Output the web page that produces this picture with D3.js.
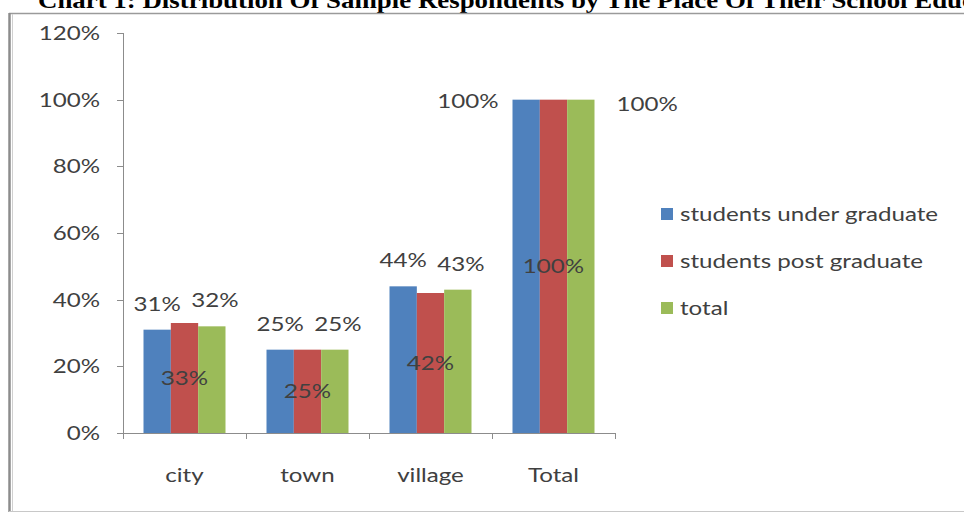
<!DOCTYPE html>
<html><head><meta charset="utf-8">
<script src="https://cdn.jsdelivr.net/npm/d3@7"></script>
<style>body{margin:0;background:#fff;overflow:hidden}svg{display:block}</style>
</head><body>
<svg id="c" width="964" height="516"></svg>
<script>
const title = "Chart 1: Distribution Of Sample Respondents by The Place Of Their School Education";
const categories = ["city", "town", "village", "Total"];
const seriesNames = ["students under graduate", "students post graduate", "total"];
const underGraduate = [0.31, 0.25, 0.44, 1.00];
const postGraduate = [0.33, 0.25, 0.42, 1.00];
const totalSeries = [0.32, 0.25, 0.43, 1.00];
const yTicks = [0, 0.2, 0.4, 0.6, 0.8, 1.0, 1.2];
const colors = ["#4F81BD", "#C0504D", "#9BBB59"];

const seriesValues = [underGraduate, postGraduate, totalSeries];
const svg = d3.select("#c");
const SX = 1.27; // horizontal stretch of the original image
const font = "Lato, 'Open Sans', sans-serif";
const txtCol = "#404040";

// title (cut off at top, as in the source image)
svg.append("text").attr("transform", "translate(38,8) scale(1.12,1)")
  .attr("font-family", "'Liberation Serif', 'Times New Roman', serif")
  .attr("font-weight", "bold").attr("font-size", 24).attr("fill", "#000")
  .text(title);

// frame
svg.append("line").attr("x1", 9).attr("x2", 964).attr("y1", 13.5).attr("y2", 13.5).attr("stroke", "#9a9a9a").attr("stroke-width", 1.5);
svg.append("line").attr("x1", 9.5).attr("x2", 9.5).attr("y1", 13).attr("y2", 512).attr("stroke", "#8c8c8c").attr("stroke-width", 2.5);
svg.append("line").attr("x1", 12.5).attr("x2", 12.5).attr("y1", 14).attr("y2", 511).attr("stroke", "#d0d0d0").attr("stroke-width", 1);
svg.append("line").attr("x1", 9).attr("x2", 964).attr("y1", 511.5).attr("y2", 511.5).attr("stroke", "#c8c8c8").attr("stroke-width", 1);

const y = d3.scaleLinear().domain([0, 1.2]).range([433, 33]);
const x0 = d3.scaleBand().domain(categories).range([123, 615]).padding(0);
const x1 = d3.scaleBand().domain(seriesNames).range([0, x0.bandwidth()]).paddingInner(0).paddingOuter(0.75);
const pct = d3.format(".0%");

function stretchedText(g, x, yy, txt, anchor) {
  return g.append("text").attr("transform", `translate(${x},${yy}) scale(${SX},1)`)
    .attr("text-anchor", anchor).attr("font-family", font).attr("font-size", 19)
    .attr("fill", txtCol).text(txt);
}

// y axis
const axisCol = "#8c8c8c";
svg.append("line").attr("x1", 123.5).attr("x2", 123.5).attr("y1", y(1.2)).attr("y2", y(0)).attr("stroke", axisCol);
yTicks.forEach(t => {
  svg.append("line").attr("x1", 117).attr("x2", 123.5).attr("y1", Math.round(y(t)) + 0.5).attr("y2", Math.round(y(t)) + 0.5).attr("stroke", axisCol);
  stretchedText(svg, 100, y(t) + 7, pct(t), "end");
});

// x axis
svg.append("line").attr("x1", 123).attr("x2", 615).attr("y1", y(0) + 0.5).attr("y2", y(0) + 0.5).attr("stroke", axisCol);
const bounds = categories.map(c => x0(c)).concat([x0(categories[categories.length - 1]) + x0.bandwidth()]);
bounds.forEach(b => {
  svg.append("line").attr("x1", Math.round(b) + 0.5).attr("x2", Math.round(b) + 0.5).attr("y1", y(0)).attr("y2", y(0) + 6).attr("stroke", axisCol);
});
categories.forEach(c => stretchedText(svg, x0(c) + x0.bandwidth() / 2, 482, c, "middle"));

// bars
const bars = svg.append("g");
categories.forEach((c, i) => {
  seriesNames.forEach((s, j) => {
    const v = seriesValues[j][i];
    bars.append("rect").attr("x", x0(c) + x1(s)).attr("width", x1.bandwidth())
      .attr("y", y(v)).attr("height", y(0) - y(v)).attr("fill", colors[j]);
  });
});

// data labels
const labels = svg.append("g");
categories.forEach((c, i) => {
  const last = i === categories.length - 1;
  const groupL = x0(c) + x1(seriesNames[0]);
  const groupR = x0(c) + x1(seriesNames[2]) + x1.bandwidth();
  let v = underGraduate[i];
  if (last) stretchedText(labels, groupL - 14, y(v) + 8, pct(v), "end");
  else stretchedText(labels, x0(c) + x1(seriesNames[0]) + x1.bandwidth() / 2, y(v) - 19, pct(v), "middle");
  v = postGraduate[i];
  stretchedText(labels, x0(c) + x1(seriesNames[1]) + x1.bandwidth() / 2, (y(v) + y(0)) / 2 + 7, pct(v), "middle");
  v = totalSeries[i];
  if (last) stretchedText(labels, groupR + 22, y(v) + 11, pct(v), "start");
  else stretchedText(labels, x0(c) + x1(seriesNames[2]) + x1.bandwidth() / 2 + 3, y(v) - 19, pct(v), "middle");
});

// legend
const lg = svg.append("g");
seriesNames.forEach((s, j) => {
  const cy = 214 + j * 47;
  lg.append("rect").attr("x", 661).attr("y", cy - 6).attr("width", 12).attr("height", 12).attr("fill", colors[j]);
  stretchedText(lg, 680, cy + 7, s, "start");
});
</script>
</body></html>
